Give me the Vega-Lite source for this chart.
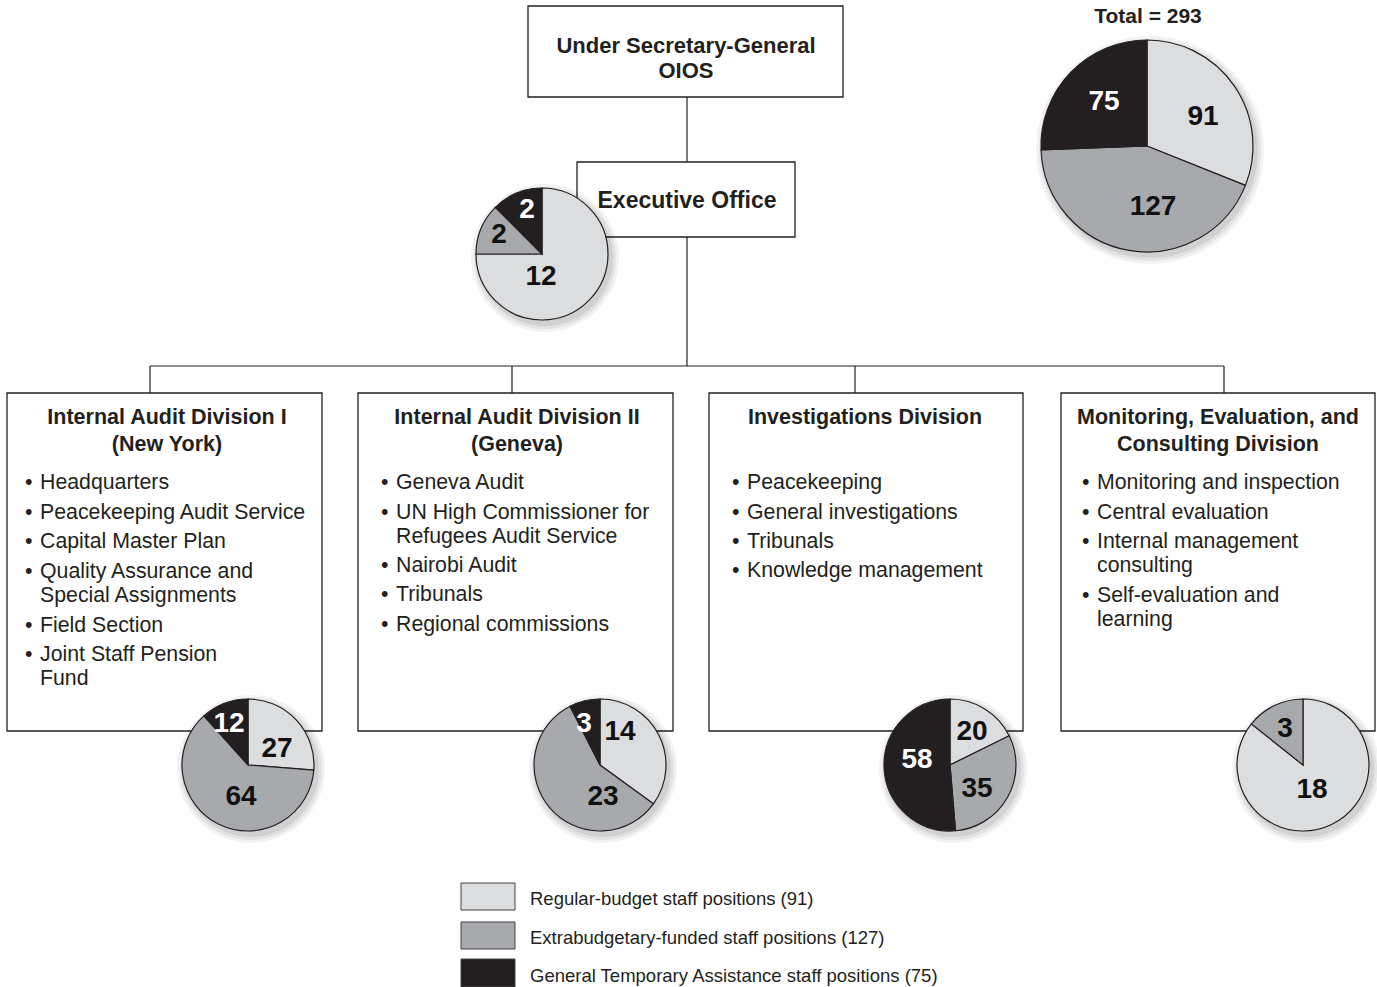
{
  "$schema": "https://vega.github.io/schema/vega-lite/v6.json",
  "width": 1377,
  "height": 987,
  "padding": 0,
  "autosize": {"type": "none"},
  "background": "white",
  "config": {"view": {"stroke": null}, "font": "Liberation Sans"},
  "datasets": {
    "boxes": [
      {"name": "Under Secretary-General", "x": 528, "y": 6, "x2": 843, "y2": 97},
      {"name": "Executive Office", "x": 577, "y": 162, "x2": 795, "y2": 237},
      {"name": "IAD I", "x": 7, "y": 393, "x2": 322, "y2": 731},
      {"name": "IAD II", "x": 358, "y": 393, "x2": 673, "y2": 731},
      {"name": "Investigations", "x": 709, "y": 393, "x2": 1023, "y2": 731},
      {"name": "MECD", "x": 1061, "y": 393, "x2": 1375, "y2": 731}
    ],
    "links": [
      {"x": 687, "y": 97, "x2": 687, "y2": 162},
      {"x": 687, "y": 237, "x2": 687, "y2": 366},
      {"x": 150, "y": 366, "x2": 1224, "y2": 366},
      {"x": 150, "y": 366, "x2": 150, "y2": 393},
      {"x": 512, "y": 366, "x2": 512, "y2": 393},
      {"x": 855, "y": 366, "x2": 855, "y2": 393},
      {"x": 1224, "y": 366, "x2": 1224, "y2": 393}
    ],
    "centers": [
      {"pie": "total", "x": 1147, "y": 146},
      {"pie": "exec", "x": 542, "y": 254},
      {"pie": "iad1", "x": 248, "y": 765},
      {"pie": "iad2", "x": 600, "y": 765},
      {"pie": "inv", "x": 950, "y": 765},
      {"pie": "mecd", "x": 1303, "y": 765}
    ],
    "slices": [
      {"pie": "total", "category": "Regular-budget staff positions (91)", "n": 91},
      {"pie": "total", "category": "Extrabudgetary-funded staff positions (127)", "n": 127},
      {"pie": "total", "category": "General Temporary Assistance staff positions (75)", "n": 75},
      {"pie": "exec", "category": "Regular-budget staff positions (91)", "n": 12},
      {"pie": "exec", "category": "Extrabudgetary-funded staff positions (127)", "n": 2},
      {"pie": "exec", "category": "General Temporary Assistance staff positions (75)", "n": 2},
      {"pie": "iad1", "category": "Regular-budget staff positions (91)", "n": 27},
      {"pie": "iad1", "category": "Extrabudgetary-funded staff positions (127)", "n": 64},
      {"pie": "iad1", "category": "General Temporary Assistance staff positions (75)", "n": 12},
      {"pie": "iad2", "category": "Regular-budget staff positions (91)", "n": 14},
      {"pie": "iad2", "category": "Extrabudgetary-funded staff positions (127)", "n": 23},
      {"pie": "iad2", "category": "General Temporary Assistance staff positions (75)", "n": 3},
      {"pie": "inv", "category": "Regular-budget staff positions (91)", "n": 20},
      {"pie": "inv", "category": "Extrabudgetary-funded staff positions (127)", "n": 35},
      {"pie": "inv", "category": "General Temporary Assistance staff positions (75)", "n": 58},
      {"pie": "mecd", "category": "Regular-budget staff positions (91)", "n": 18},
      {"pie": "mecd", "category": "Extrabudgetary-funded staff positions (127)", "n": 3}
    ],
    "keyrows": [
      {"category": "Regular-budget staff positions (91)", "x": 461, "x2": 515, "tx": 530, "y": 883, "y2": 910},
      {"category": "Extrabudgetary-funded staff positions (127)", "x": 461, "x2": 515, "tx": 530, "y": 922, "y2": 949},
      {"category": "General Temporary Assistance staff positions (75)", "x": 461, "x2": 515, "tx": 530, "y": 959, "y2": 987}
    ],
    "pielabels": [
      {"pie": "total", "x": 1104, "y": 110, "text": "75", "cat": "gta"},
      {"pie": "total", "x": 1203, "y": 125, "text": "91", "cat": "reg"},
      {"pie": "total", "x": 1153, "y": 215, "text": "127", "cat": "ext"},
      {"pie": "exec", "x": 527, "y": 218, "text": "2", "cat": "gta"},
      {"pie": "exec", "x": 499, "y": 243, "text": "2", "cat": "ext"},
      {"pie": "exec", "x": 541, "y": 285, "text": "12", "cat": "reg"},
      {"pie": "iad1", "x": 229, "y": 732, "text": "12", "cat": "gta"},
      {"pie": "iad1", "x": 277, "y": 757, "text": "27", "cat": "reg"},
      {"pie": "iad1", "x": 241, "y": 805, "text": "64", "cat": "ext"},
      {"pie": "iad2", "x": 584, "y": 732, "text": "3", "cat": "gta"},
      {"pie": "iad2", "x": 620, "y": 740, "text": "14", "cat": "reg"},
      {"pie": "iad2", "x": 603, "y": 805, "text": "23", "cat": "ext"},
      {"pie": "inv", "x": 972, "y": 740, "text": "20", "cat": "reg"},
      {"pie": "inv", "x": 917, "y": 768, "text": "58", "cat": "gta"},
      {"pie": "inv", "x": 977, "y": 797, "text": "35", "cat": "ext"},
      {"pie": "mecd", "x": 1285, "y": 737, "text": "3", "cat": "ext"},
      {"pie": "mecd", "x": 1312, "y": 798, "text": "18", "cat": "reg"}
    ],
    "texts": [
      {"role": "head", "x": 686, "y": 53, "text": "Under Secretary-General"},
      {"role": "head", "x": 686, "y": 78, "text": "OIOS"},
      {"role": "head", "x": 687, "y": 208, "text": "Executive Office"},
      {"role": "head", "x": 1148, "y": 23, "text": "Total = 293"},
      {"role": "head", "x": 167, "y": 424, "text": "Internal Audit Division I"},
      {"role": "head", "x": 167, "y": 451, "text": "(New York)"},
      {"role": "head", "x": 517, "y": 424, "text": "Internal Audit Division II"},
      {"role": "head", "x": 517, "y": 451, "text": "(Geneva)"},
      {"role": "head", "x": 865, "y": 424, "text": "Investigations Division"},
      {"role": "head", "x": 1218, "y": 424, "text": "Monitoring, Evaluation, and"},
      {"role": "head", "x": 1218, "y": 451, "text": "Consulting Division"},
      {"role": "item", "x": 40, "y": 489, "text": "Headquarters"},
      {"role": "item", "x": 40, "y": 519, "text": "Peacekeeping Audit Service"},
      {"role": "item", "x": 40, "y": 548, "text": "Capital Master Plan"},
      {"role": "item", "x": 40, "y": 578, "text": "Quality Assurance and"},
      {"role": "cont", "x": 40, "y": 602, "text": "Special Assignments"},
      {"role": "item", "x": 40, "y": 632, "text": "Field Section"},
      {"role": "item", "x": 40, "y": 661, "text": "Joint Staff Pension"},
      {"role": "cont", "x": 40, "y": 685, "text": "Fund"},
      {"role": "item", "x": 396, "y": 489, "text": "Geneva Audit"},
      {"role": "item", "x": 396, "y": 519, "text": "UN High Commissioner for"},
      {"role": "cont", "x": 396, "y": 543, "text": "Refugees Audit Service"},
      {"role": "item", "x": 396, "y": 572, "text": "Nairobi Audit"},
      {"role": "item", "x": 396, "y": 601, "text": "Tribunals"},
      {"role": "item", "x": 396, "y": 631, "text": "Regional commissions"},
      {"role": "item", "x": 747, "y": 489, "text": "Peacekeeping"},
      {"role": "item", "x": 747, "y": 519, "text": "General investigations"},
      {"role": "item", "x": 747, "y": 548, "text": "Tribunals"},
      {"role": "item", "x": 747, "y": 577, "text": "Knowledge management"},
      {"role": "item", "x": 1097, "y": 489, "text": "Monitoring and inspection"},
      {"role": "item", "x": 1097, "y": 519, "text": "Central evaluation"},
      {"role": "item", "x": 1097, "y": 548, "text": "Internal management"},
      {"role": "cont", "x": 1097, "y": 572, "text": "consulting"},
      {"role": "item", "x": 1097, "y": 602, "text": "Self-evaluation and"},
      {"role": "cont", "x": 1097, "y": 626, "text": "learning"}
    ]
  },
  "encoding": {
    "x": {"field": "x", "type": "quantitative", "axis": null, "scale": {"domain": [0, 1377], "nice": false, "zero": false}},
    "y": {"field": "y", "type": "quantitative", "axis": null, "scale": {"domain": [0, 987], "nice": false, "zero": false, "reverse": true}}
  },
  "layer": [
    {
      "data": {"name": "links"},
      "mark": {"type": "rule", "color": "#231f20", "strokeWidth": 1.2},
      "encoding": {"x2": {"field": "x2"}, "y2": {"field": "y2"}}
    },
    {
      "data": {"name": "boxes"},
      "mark": {"type": "rect", "fill": "white", "stroke": "#231f20", "strokeWidth": 1.3},
      "encoding": {"x2": {"field": "x2"}, "y2": {"field": "y2"}}
    },
    {
      "data": {"name": "centers"},
      "mark": {"type": "point", "shape": "circle", "filled": true, "color": "#000000", "opacity": 0.05, "strokeWidth": 0, "xOffset": 3, "yOffset": 4},
      "encoding": {"size": {"condition": {"test": "datum.pie === 'total'", "value": 51984}, "value": 21904}}
    },
    {
      "data": {"name": "centers"},
      "mark": {"type": "point", "shape": "circle", "filled": true, "color": "#000000", "opacity": 0.06, "strokeWidth": 0, "xOffset": 3, "yOffset": 4},
      "encoding": {"size": {"condition": {"test": "datum.pie === 'total'", "value": 49284}, "value": 20164}}
    },
    {
      "data": {"name": "centers"},
      "mark": {"type": "point", "shape": "circle", "filled": true, "color": "#000000", "opacity": 0.08, "strokeWidth": 0, "xOffset": 3, "yOffset": 4},
      "encoding": {"size": {"condition": {"test": "datum.pie === 'total'", "value": 46656}, "value": 18496}}
    },
    {
      "data": {"name": "slices"},
      "transform": [
        {"lookup": "pie", "from": {"data": {"name": "centers"}, "key": "pie", "fields": ["x", "y"]}},
        {"calculate": "indexof(['Regular-budget staff positions (91)', 'Extrabudgetary-funded staff positions (127)', 'General Temporary Assistance staff positions (75)'], datum.category)", "as": "k"},
        {"joinaggregate": [{"op": "sum", "field": "n", "as": "tot"}], "groupby": ["pie"]},
        {"window": [{"op": "sum", "field": "n", "as": "cum"}], "groupby": ["pie"], "sort": [{"field": "k"}], "frame": [null, 0]},
        {"calculate": "(datum.cum - datum.n) / datum.tot", "as": "t0"},
        {"calculate": "datum.cum / datum.tot", "as": "t1"},
        {"filter": "datum.pie === 'total'"}
      ],
      "mark": {"type": "arc", "radius": 106, "stroke": "#231f20", "strokeWidth": 1.2},
      "encoding": {
        "theta": {"field": "t0", "type": "quantitative", "stack": null, "scale": {"domain": [0, 1], "range": [0, 6.283185307179586]}},
        "theta2": {"field": "t1"},
        "color": {
          "field": "category",
          "type": "nominal",
          "scale": {
            "domain": ["Regular-budget staff positions (91)", "Extrabudgetary-funded staff positions (127)", "General Temporary Assistance staff positions (75)"],
            "range": ["#dcdddf", "#a7a9ac", "#231f20"]
          },
          "legend": null
        }
      }
    },
    {
      "data": {"name": "slices"},
      "transform": [
        {"lookup": "pie", "from": {"data": {"name": "centers"}, "key": "pie", "fields": ["x", "y"]}},
        {"calculate": "indexof(['Regular-budget staff positions (91)', 'Extrabudgetary-funded staff positions (127)', 'General Temporary Assistance staff positions (75)'], datum.category)", "as": "k"},
        {"joinaggregate": [{"op": "sum", "field": "n", "as": "tot"}], "groupby": ["pie"]},
        {"window": [{"op": "sum", "field": "n", "as": "cum"}], "groupby": ["pie"], "sort": [{"field": "k"}], "frame": [null, 0]},
        {"calculate": "(datum.cum - datum.n) / datum.tot", "as": "t0"},
        {"calculate": "datum.cum / datum.tot", "as": "t1"},
        {"filter": "datum.pie !== 'total'"}
      ],
      "mark": {"type": "arc", "radius": 66, "stroke": "#231f20", "strokeWidth": 1.2},
      "encoding": {
        "theta": {"field": "t0", "type": "quantitative", "stack": null, "scale": {"domain": [0, 1], "range": [0, 6.283185307179586]}},
        "theta2": {"field": "t1"},
        "color": {"field": "category", "type": "nominal", "legend": null}
      }
    },
    {
      "data": {"name": "keyrows"},
      "mark": {"type": "rect", "stroke": "#444444", "strokeWidth": 1},
      "encoding": {
        "x2": {"field": "x2"},
        "y2": {"field": "y2"},
        "color": {"field": "category", "type": "nominal", "legend": null}
      }
    },
    {
      "data": {"name": "keyrows"},
      "mark": {"type": "text", "align": "left", "baseline": "alphabetic", "fontSize": 18.5, "color": "#231f20", "dy": -5.5},
      "encoding": {
        "x": {"field": "tx", "type": "quantitative"},
        "y": {"field": "y2", "type": "quantitative"},
        "text": {"field": "category"}
      }
    },
    {
      "data": {"name": "texts"},
      "transform": [{"filter": "datum.role === 'head'"}],
      "mark": {"type": "text", "align": "center", "baseline": "alphabetic", "fontWeight": "bold", "color": "#231f20"},
      "encoding": {
        "text": {"field": "text"},
        "size": {
          "condition": [
            {"test": "datum.text === 'Executive Office'", "value": 23},
            {"test": "datum.text === 'Under Secretary-General' || datum.text === 'OIOS'", "value": 22},
            {"test": "datum.text === 'Total = 293'", "value": 21}
          ],
          "value": 21.5
        }
      }
    },
    {
      "data": {"name": "texts"},
      "transform": [{"filter": "datum.role !== 'head'"}],
      "mark": {"type": "text", "align": "left", "baseline": "alphabetic", "fontSize": 21.3, "color": "#231f20"},
      "encoding": {"text": {"field": "text"}}
    },
    {
      "data": {"name": "texts"},
      "transform": [{"filter": "datum.role === 'item'"}],
      "mark": {"type": "text", "align": "left", "baseline": "alphabetic", "fontSize": 21.3, "color": "#231f20", "dx": -15},
      "encoding": {"text": {"value": "•"}}
    },
    {
      "data": {"name": "pielabels"},
      "mark": {"type": "text", "align": "center", "baseline": "alphabetic", "fontWeight": "bold", "fontSize": 28},
      "encoding": {
        "text": {"field": "text"},
        "color": {"condition": {"test": "datum.cat === 'gta'", "value": "#ffffff"}, "value": "#111111"}
      }
    }
  ]
}
